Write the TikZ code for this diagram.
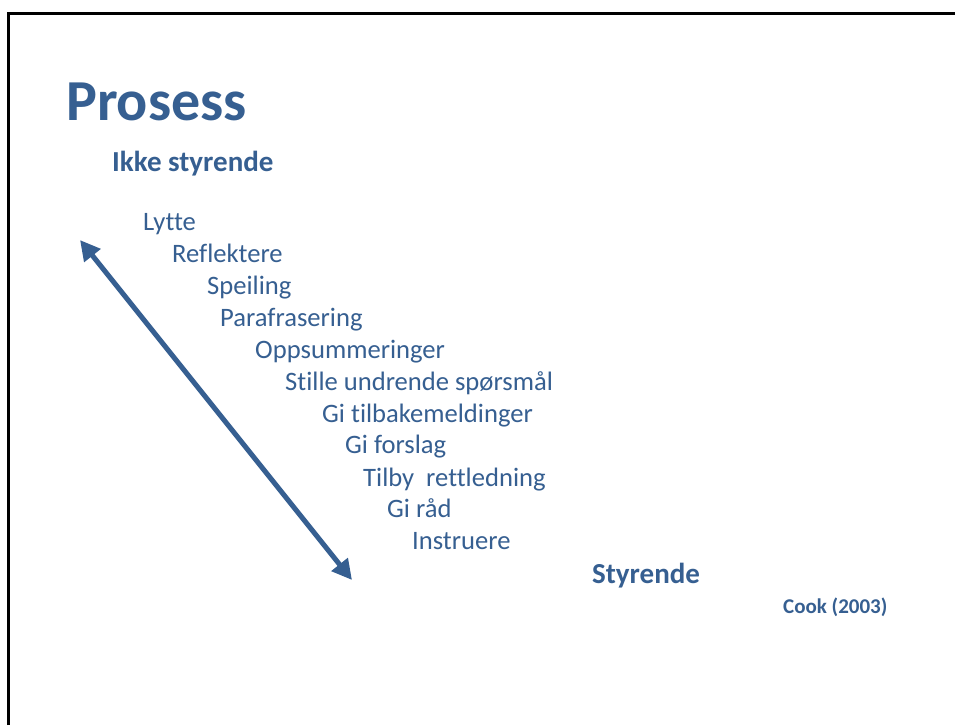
\documentclass[tikz,border=0pt]{standalone}
\usepackage{fontspec}
\setmainfont[Ligatures={NoCommon}]{Carlito}
\usetikzlibrary{arrows.meta}
\definecolor{blu}{RGB}{54,95,145}
\tikzset{
  item/.style={anchor=base west, inner sep=0pt, text=blu, font=\fontsize{26.6}{30}\selectfont},
  head/.style={anchor=base west, inner sep=0pt, text=blu, font=\bfseries\fontsize{29}{34}\selectfont},
  titl/.style={anchor=base west, inner sep=0pt, text=blu, font=\bfseries\fontsize{58}{64}\selectfont},
  refr/.style={anchor=base west, inner sep=0pt, text=blu, font=\bfseries\fontsize{21}{24}\selectfont},
  dbl/.style={blu, line width=5pt, {Triangle[length=20pt,width=20pt]}-{Triangle[length=20pt,width=20pt]}}
}
\begin{document}
\begin{tikzpicture}[x=1pt,y=-1pt]
\useasboundingbox (0,0) rectangle (955,725);
\fill[white] (0,0) rectangle (955,725);
\draw[line width=3pt] (8.5,725) -- (8.5,13.5) -- (955,13.5);
\node[titl] (title) at (66,120) {Prosess};
\node[head] (ikke) at (112,171) {Ikke styrende};
\node[item] (l1) at (143,230) {Lytte};
\node[item] (l2) at (172,262) {Reflektere};
\node[item] (l3) at (207,294) {Speiling};
\node[item] (l4) at (220,326) {Parafrasering};
\node[item] (l5) at (255,358) {Oppsummeringer};
\node[item] (l6) at (285,390) {Stille undrende spørsmål};
\node[item] (l7) at (322,422) {Gi tilbakemeldinger};
\node[item] (l8) at (345,453) {Gi forslag};
\node[item] (l9) at (363,486) {Tilby\ \ rettledning};
\node[item] (l10) at (387,517) {Gi råd};
\node[item] (l11) at (412,549) {Instruere};
\node[head] (styr) at (592,583) {Styrende};
\node[refr] (cook) at (783,613) {Cook (2003)};
\coordinate (a) at (80,240);
\coordinate (b) at (352,580);
\draw[dbl] (a) -- (b);
\end{tikzpicture}
\end{document}
